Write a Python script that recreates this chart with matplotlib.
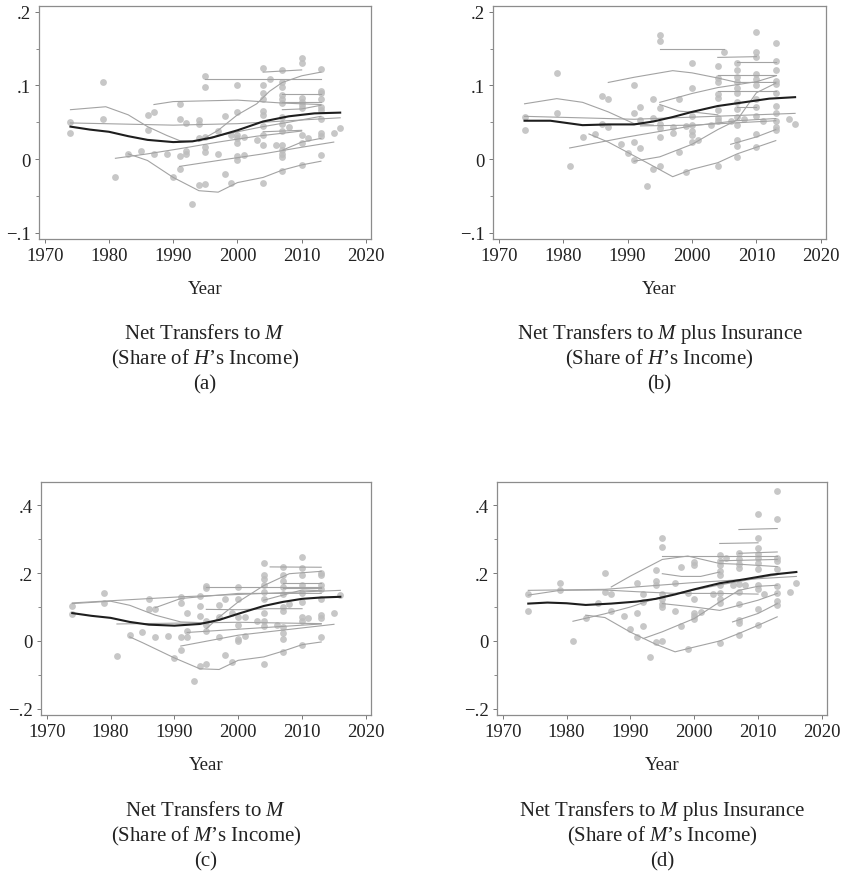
import numpy as np
import matplotlib
matplotlib.use("Agg")
import matplotlib.pyplot as plt

plt.rcParams['font.family'] = ['Liberation Serif', 'DejaVu Serif']
plt.rcParams['mathtext.fontset'] = 'custom'
plt.rcParams['mathtext.rm'] = 'Liberation Serif'
plt.rcParams['mathtext.it'] = 'Liberation Serif:italic'

# ---- panel (a): net transfers to M, share of H's income ----
pts_a = {
    1974: [0.050, 0.036], 1979: [0.104, 0.054], 1981: [-0.024], 1983: [0.007],
    1985: [0.011], 1986: [0.060, 0.039], 1987: [0.064, 0.007], 1989: [0.007],
    1990: [-0.024], 1991: [0.075, 0.054, 0.004, -0.013], 1992: [0.049, 0.011, 0.007],
    1993: [-0.061], 1994: [0.053, 0.048, 0.028, -0.035],
    1995: [0.113, 0.098, 0.030, 0.016, 0.010, -0.034], 1997: [0.038, 0.007],
    1998: [0.058, -0.021], 1999: [0.032, -0.033],
    2000: [0.100, 0.064, 0.033, 0.028, 0.022, 0.004, -0.002], 2001: [0.030, 0.006],
    2003: [0.026],
    2004: [0.123, 0.101, 0.090, 0.081, 0.065, 0.060, 0.045, 0.032, 0.019, -0.033],
    2005: [0.109], 2006: [0.019],
    2007: [0.121, 0.105, 0.098, 0.087, 0.082, 0.076, 0.057, 0.048, 0.038, 0.019,
           0.012, 0.007, 0.003, -0.016],
    2008: [0.043],
    2010: [0.137, 0.131, 0.083, 0.077, 0.074, 0.069, 0.033, 0.022, -0.008],
    2011: [0.029],
    2013: [0.122, 0.093, 0.090, 0.082, 0.071, 0.066, 0.055, 0.035, 0.031, 0.006],
    2015: [0.036], 2016: [0.042],
}
lines_a = [
    ([1974, 1979.5, 1983, 1986, 1989, 1991, 1993], [0.067, 0.071, 0.060, 0.044, 0.032, 0.025, 0.024]),
    ([1974, 1990, 2000, 2016], [0.049, 0.046, 0.048, 0.056]),
    ([1987, 1990, 2000, 2007, 2013], [0.074, 0.078, 0.080, 0.076, 0.074]),
    ([1994, 1997, 2000, 2003, 2005, 2007, 2010, 2013], [0.024, 0.039, 0.060, 0.075, 0.092, 0.104, 0.113, 0.118]),
    ([1981, 1986, 1991, 1997, 2003, 2010], [0.001, 0.007, 0.014, 0.023, 0.031, 0.038]),
    ([1983, 1986, 1990, 1994, 1997, 2000, 2004, 2007, 2010, 2013],
     [0.007, -0.002, -0.025, -0.043, -0.045, -0.032, -0.025, -0.015, -0.008, -0.003]),
    ([1991, 1997, 2004, 2010, 2015], [-0.010, -0.002, 0.007, 0.016, 0.023]),
    ([1995, 2013], [0.108, 0.108]),
    ([2004, 2010], [0.118, 0.121]),
    ([2007, 2013], [0.088, 0.088]),
    ([2007, 2010, 2013], [0.067, 0.068, 0.073]),
    ([1995, 2000, 2004, 2008, 2013], [0.028, 0.037, 0.044, 0.050, 0.058]),
    ([2004, 2010], [0.037, 0.039]),
    ([2007, 2010, 2013], [0.012, 0.023, 0.028]),
    ([2007, 2013], [0.078, 0.078]),
]
mean_years_a = [1974, 1977, 1980, 1983, 1986, 1990, 1993, 1996, 2000, 2004, 2008, 2012, 2016]
mean_a = [0.044, 0.040, 0.037, 0.031, 0.026, 0.023, 0.024, 0.029, 0.039, 0.051, 0.058, 0.062, 0.063]

# ---- panel (b): net transfers plus insurance, share of H's income ----
pts_b = {
    1974: [0.057, 0.039], 1979: [0.117, 0.062], 1981: [-0.009], 1983: [0.030],
    1985: [0.034], 1986: [0.085, 0.047], 1987: [0.082, 0.043], 1989: [0.020],
    1990: [0.008], 1991: [0.100, 0.062, 0.023, -0.001], 1992: [0.071, 0.053, 0.015],
    1993: [-0.036], 1994: [0.081, 0.056, -0.013],
    1995: [0.169, 0.160, 0.069, 0.047, 0.042, 0.030, -0.010], 1997: [0.043, 0.035],
    1998: [0.082, 0.009], 1999: [0.045, -0.018],
    2000: [0.130, 0.096, 0.058, 0.046, 0.038, 0.033, 0.023], 2001: [0.026],
    2003: [0.046],
    2004: [0.127, 0.110, 0.105, 0.088, 0.083, 0.067, 0.056, 0.051, -0.009],
    2005: [0.145], 2006: [0.052],
    2007: [0.130, 0.121, 0.112, 0.105, 0.097, 0.090, 0.078, 0.068, 0.057, 0.046,
           0.026, 0.018, 0.003],
    2008: [0.055],
    2010: [0.173, 0.145, 0.139, 0.115, 0.109, 0.100, 0.081, 0.070, 0.059, 0.034, 0.017],
    2011: [0.051],
    2013: [0.158, 0.133, 0.121, 0.106, 0.102, 0.089, 0.072, 0.062, 0.051, 0.043, 0.040],
    2015: [0.054], 2016: [0.048],
}
lines_b = [
    ([1974, 1979, 1983, 1987, 1991, 1994], [0.075, 0.082, 0.077, 0.064, 0.048, 0.046]),
    ([1974, 1991, 2016], [0.058, 0.054, 0.062]),
    ([1987, 1991, 1997, 2000, 2004, 2007, 2013], [0.104, 0.111, 0.120, 0.117, 0.110, 0.104, 0.104]),
    ([1995, 2005], [0.149, 0.149]),
    ([2004, 2010], [0.138, 0.139]),
    ([2007, 2013], [0.132, 0.132]),
    ([2004, 2013], [0.114, 0.114]),
    ([2004, 2013], [0.092, 0.092]),
    ([2007, 2010], [0.070, 0.070]),
    ([1995, 2000, 2004, 2010, 2013], [0.077, 0.089, 0.097, 0.105, 0.113]),
    ([1995, 1998, 2001, 2004], [0.074, 0.065, 0.063, 0.060]),
    ([1981, 1990, 2000, 2007, 2013], [0.015, 0.030, 0.045, 0.052, 0.055]),
    ([1984, 1987, 1990, 1993, 1997, 2000, 2004, 2007, 2010, 2013],
     [0.034, 0.023, 0.009, -0.005, -0.024, -0.014, -0.005, 0.007, 0.016, 0.025]),
    ([1991, 1995, 2000, 2004, 2007, 2010, 2013], [-0.003, 0.003, 0.020, 0.040, 0.053, 0.090, 0.103]),
    ([2006, 2010, 2013], [0.020, 0.030, 0.040]),
    ([1992, 2000, 2013], [0.045, 0.046, 0.052]),
]
mean_years_b = [1974, 1978, 1983, 1987, 1991, 1994, 1997, 2000, 2004, 2008, 2012, 2016]
mean_b = [0.052, 0.052, 0.046, 0.047, 0.047, 0.051, 0.057, 0.064, 0.072, 0.077, 0.082, 0.084]

# ---- panel (c): net transfers, share of M's income ----
pts_c = {
    1974: [0.103, 0.078], 1979: [0.142, 0.113], 1981: [-0.045], 1983: [0.017],
    1985: [0.025], 1986: [0.123, 0.095], 1987: [0.095, 0.013], 1989: [0.015],
    1990: [-0.049], 1991: [0.128, 0.113, 0.012, -0.026], 1992: [0.083, 0.028, 0.012],
    1993: [-0.117], 1994: [0.133, 0.102, 0.073, -0.075],
    1995: [0.162, 0.157, 0.058, 0.046, 0.028, -0.069], 1997: [0.106, 0.072, 0.013],
    1998: [0.123, -0.041], 1999: [0.083, -0.061],
    2000: [0.160, 0.125, 0.071, 0.046, 0.007, -0.001], 2001: [0.071, 0.014],
    2003: [0.059],
    2004: [0.229, 0.195, 0.182, 0.164, 0.144, 0.125, 0.083, 0.058, 0.044, -0.068],
    2006: [0.048],
    2007: [0.219, 0.193, 0.176, 0.160, 0.139, 0.099, 0.087, 0.041, 0.024, 0.007, -0.032],
    2008: [0.108],
    2010: [0.247, 0.216, 0.195, 0.164, 0.142, 0.115, 0.071, 0.058, -0.013],
    2011: [0.068],
    2013: [0.201, 0.195, 0.164, 0.152, 0.125, 0.075, 0.068, 0.012],
    2015: [0.083], 2016: [0.135],
}
lines_c = [
    ([1974, 1980, 1983, 1987, 1991, 1994], [0.110, 0.117, 0.105, 0.076, 0.056, 0.054]),
    ([1995, 1997, 2000, 2004, 2008, 2013], [0.036, 0.070, 0.115, 0.163, 0.198, 0.205]),
    ([1974, 1991, 2016], [0.112, 0.130, 0.149]),
    ([1981, 2000, 2013], [0.050, 0.055, 0.051]),
    ([1987, 1991, 2000, 2013], [0.098, 0.125, 0.140, 0.140]),
    ([1995, 2013], [0.160, 0.160]),
    ([2005, 2013], [0.218, 0.217]),
    ([2007, 2013], [0.170, 0.170]),
    ([2007, 2013], [0.155, 0.155]),
    ([1983, 1985, 1990, 1994, 1997, 2000, 2004, 2007, 2010, 2013],
     [0.012, -0.005, -0.050, -0.082, -0.084, -0.057, -0.047, -0.030, -0.011, -0.003]),
    ([1991, 2000, 2015], [-0.015, 0.017, 0.049]),
    ([1992, 2013], [0.025, 0.050]),
    ([1995, 2000, 2005, 2010], [0.093, 0.092, 0.095, 0.095]),
    ([2004, 2010, 2013], [0.120, 0.150, 0.148]),
]
mean_years_c = [1974, 1977, 1980, 1983, 1986, 1990, 1994, 1997, 2000, 2004, 2007, 2010, 2013, 2016]
mean_c = [0.082, 0.074, 0.068, 0.056, 0.048, 0.045, 0.050, 0.062, 0.080, 0.103, 0.115, 0.124, 0.128, 0.130]

# ---- panel (d): net transfers plus insurance, share of M's income ----
pts_d = {
    1974: [0.137, 0.089], 1979: [0.172, 0.151], 1981: [0.000], 1983: [0.069],
    1985: [0.111], 1986: [0.200, 0.144], 1987: [0.139, 0.088], 1989: [0.073],
    1990: [0.034], 1991: [0.172, 0.082, 0.013], 1992: [0.138, 0.115, 0.044],
    1993: [-0.048], 1994: [0.210, 0.177, 0.164, -0.003],
    1995: [0.302, 0.277, 0.137, 0.125, 0.110, 0.100, 0.000], 1997: [0.172, 0.087],
    1998: [0.219, 0.044], 1999: [0.141, -0.024],
    2000: [0.233, 0.223, 0.125, 0.083, 0.073, 0.066], 2001: [0.085],
    2003: [0.137],
    2004: [0.254, 0.234, 0.225, 0.205, 0.193, 0.164, 0.142, 0.125, 0.112, -0.007],
    2005: [0.243], 2006: [0.164],
    2007: [0.259, 0.241, 0.228, 0.215, 0.169, 0.144, 0.108, 0.063, 0.053, 0.019],
    2008: [0.164],
    2010: [0.374, 0.302, 0.275, 0.257, 0.243, 0.230, 0.213, 0.164, 0.154, 0.093, 0.048],
    2011: [0.139],
    2013: [0.441, 0.360, 0.245, 0.234, 0.211, 0.162, 0.142, 0.117, 0.105],
    2015: [0.145], 2016: [0.171],
}
lines_d = [
    ([1974, 1986, 2000, 2016], [0.149, 0.152, 0.172, 0.190]),
    ([1974, 1979, 1986, 1991, 1997, 2004, 2010], [0.135, 0.149, 0.150, 0.145, 0.140, 0.140, 0.138]),
    ([1987, 1990, 1995, 1999, 2004, 2007, 2013], [0.159, 0.191, 0.240, 0.250, 0.228, 0.226, 0.219]),
    ([1995, 2013], [0.250, 0.250]),
    ([1995, 1998, 2001, 2004], [0.198, 0.190, 0.190, 0.203]),
    ([2004, 2010], [0.287, 0.289]),
    ([2007, 2013], [0.328, 0.331]),
    ([2007, 2013], [0.258, 0.262]),
    ([2004, 2013], [0.236, 0.240]),
    ([1981, 1986, 1990, 1994, 1997, 2000, 2004, 2010, 2013], [0.058, 0.080, 0.100, 0.125, 0.140, 0.150, 0.165, 0.185, 0.195]),
    ([1983, 1986, 1990, 1994, 1997, 2000, 2004, 2007, 2010, 2013],
     [0.076, 0.069, 0.026, -0.010, -0.032, -0.018, 0.000, 0.022, 0.046, 0.071]),
    ([1992, 1995, 2000, 2004, 2007, 2010, 2013], [0.007, 0.027, 0.066, 0.115, 0.149, 0.161, 0.164]),
    ([2006, 2010, 2013], [0.056, 0.081, 0.110]),
    ([1995, 2000, 2004, 2010, 2013], [0.110, 0.100, 0.090, 0.120, 0.140]),
]
mean_years_d = [1974, 1977, 1980, 1983, 1987, 1991, 1994, 1997, 2000, 2004, 2008, 2012, 2016]
mean_d = [0.110, 0.113, 0.111, 0.106, 0.110, 0.116, 0.124, 0.137, 0.152, 0.170, 0.182, 0.195, 0.203]

captions = [
    ("Net Transfers to $\\mathit{M}$", "(Share of $\\mathit{H}$\u2019s Income)", "(a)"),
    ("Net Transfers to $\\mathit{M}$ plus Insurance", "(Share of $\\mathit{H}$\u2019s Income)", "(b)"),
    ("Net Transfers to $\\mathit{M}$", "(Share of $\\mathit{M}$\u2019s Income)", "(c)"),
    ("Net Transfers to $\\mathit{M}$ plus Insurance", "(Share of $\\mathit{M}$\u2019s Income)", "(d)"),
]

W, H = 843, 878
fig = plt.figure(figsize=(W / 100, H / 100), dpi=100)

# panel boxes in pixels: left, top, right, bottom
boxes = [(39, 7, 371, 240), (493, 7, 826, 240), (41, 483, 371, 716), (497, 483, 827, 716)]
# "Year" centre, then baselines of the three caption lines
text_y = [(289, 339, 364, 389), (289, 339, 364, 389), (766, 816, 841, 866), (766, 816, 841, 866)]
panels = [(pts_a, lines_a, mean_years_a, mean_a), (pts_b, lines_b, mean_years_b, mean_b),
          (pts_c, lines_c, mean_years_c, mean_c), (pts_d, lines_d, mean_years_d, mean_d)]

for i, (pts, lines, my, mv) in enumerate(panels):
    l, t, r, b = boxes[i]
    ax = fig.add_axes([l / W, 1 - b / H, (r - l) / W, (b - t) / H])
    xs = [yr for yr, vals in pts.items() for _ in vals]
    ys = [v for vals in pts.values() for v in vals]
    ax.scatter(xs, ys, s=24, color='#bdbdbd', alpha=0.85, linewidths=0, zorder=2)
    for lx, ly in lines:
        ax.plot(lx, ly, color='#a3a3a3', lw=0.8, zorder=3)
    ax.plot(my, mv, color='#1e1e1e', lw=1.5, zorder=4)

    ax.set_xlim(1969.1, 2020.8)
    ax.set_xticks([1970, 1980, 1990, 2000, 2010, 2020])
    if i < 2:
        ax.set_ylim(-0.1086, 0.2078)
        ax.set_yticks([-0.1, 0, 0.1, 0.2], ['\u2212.1', '0', '.1', '.2'])
        ax.set_yticks([-0.05, 0.05, 0.15], minor=True)
    else:
        ax.set_ylim(-0.218, 0.468)
        ax.set_yticks([-0.2, 0, 0.2, 0.4], ['\u2212.2', '0', '.2', '.4'])
        ax.set_yticks([-0.1, 0.1, 0.3], minor=True)
    ax.tick_params(axis='both', which='major', length=3, width=0.7, pad=3,
                   labelsize=13.5, color='#777777', labelcolor='#222222')
    ax.tick_params(axis='y', which='minor', length=2, width=0.6, color='#777777')
    for side in ('left', 'bottom', 'top', 'right'):
        ax.spines[side].set_color('#8c8c8c')
        ax.spines[side].set_linewidth(0.9)

    cx = (l + r) / 2 / W
    yy = text_y[i]
    fig.text(cx, 1 - yy[0] / H, "Year", ha='center', va='center', fontsize=13.5, color='#222222')
    for k, txt in enumerate(captions[i]):
        fig.text(cx, 1 - yy[k + 1] / H, txt, ha='center', va='baseline', fontsize=15, color='#222222')

fig.savefig("out.png", dpi=100)
